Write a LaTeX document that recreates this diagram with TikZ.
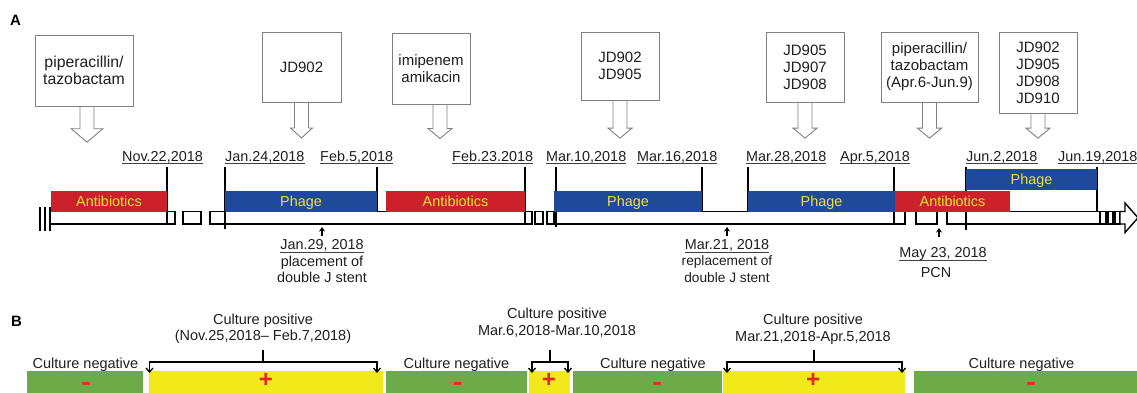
\documentclass[tikz,border=0pt]{standalone}
\usepackage{fontspec}
\setmainfont{Liberation Sans}
\newfontfamily\minusfont[FakeStretch=1.45,FakeBold=1.5]{Liberation Sans}
\usetikzlibrary{arrows.meta}
\definecolor{abred}{RGB}{204,32,42}
\definecolor{phblue}{RGB}{31,73,153}
\definecolor{bartext}{RGB}{240,228,48}
\definecolor{cgreen}{RGB}{108,171,72}
\definecolor{cyellow}{RGB}{241,233,26}
\definecolor{signred}{RGB}{230,36,36}
\definecolor{boxgray}{RGB}{128,128,128}
\definecolor{txt}{RGB}{30,30,30}
\newcommand\blkarrow[5]{\draw[callarrow] ([xshift=#2pt-7pt]#1.south) -- ++(0,#3) -- ++(7-#4,0) -- ++(#4,#5) -- ++(#4,-#5) -- ++(7-#4,0) -- ++(0,-#3) -- cycle;}
\newcommand\datelbl[3]{\node[datel] (#1) at #2 {#3}; \draw[uline] ([yshift=-2.2pt]#1.base west) -- ([yshift=-2.2pt]#1.base east);}
\begin{document}
\begin{tikzpicture}[x=1pt,y=-1pt,
  callbox/.style={draw=boxgray, line width=0.9pt, fill=white, inner sep=0pt, align=center, text=txt, font=\fontsize{15}{17}\selectfont},
  callarrow/.style={draw=boxgray, line width=0.9pt, fill=white, line join=miter},
  datel/.style={inner sep=0pt, anchor=base west, text=txt, font=\fontsize{14.4}{17}\selectfont},
  uline/.style={line width=0.8pt, black!75},
  tl/.style={line width=1.4pt, black},
  tlbox/.style={inner sep=0pt, text=bartext, text height=10.3pt, text depth=0pt, minimum height=21pt, font=\fontsize{14.4}{17}\selectfont},
  notel/.style={inner sep=0pt, anchor=base, text=txt, font=\fontsize{14.4}{17}\selectfont},
  cult/.style={inner sep=0pt, anchor=base, text=txt, font=\fontsize{14.5}{17}\selectfont},
  cbar/.style={inner sep=0pt, minimum height=22pt},
  sgn/.style={inner sep=0pt, anchor=base, text=signred, font=\bfseries\fontsize{24}{24}\selectfont},
  msgn/.style={inner sep=0pt, anchor=base, text=signred, font=\minusfont\bfseries\fontsize{18.6}{19}\selectfont},
  brk/.style={line width=1.3pt, black},
  brka/.style={line width=1.3pt, black, {Straight Barb[length=4pt,width=7pt]}-{Straight Barb[length=4pt,width=7pt]}},
  upar/.style={line width=1.3pt, black, -{Stealth[length=4.5pt,width=6pt]}},
  panel/.style={inner sep=0pt, anchor=base west, font=\bfseries\fontsize{15}{17}\selectfont}
]
\useasboundingbox (0,0) rectangle (1137,392);

% panel letters
\node[panel] (pA) at (10,25.5) {A};
\node[panel] (pB) at (11,326) {B};

% callout boxes
\node[callbox, font=\fontsize{15.8}{16.5}\selectfont, minimum width=98pt, minimum height=71pt] (c1) at (84,70.5) {piperacillin/\\tazobactam};
\node[callbox, minimum width=79pt, minimum height=70pt] (c2) at (301.5,67) {JD902};
\node[callbox, minimum width=78pt, minimum height=71pt] (c3) at (431,68.5) {imipenem\\amikacin};
\node[callbox, minimum width=78pt, minimum height=68pt] (c4) at (620,66) {JD902\\JD905};
\node[callbox, minimum width=78pt, minimum height=70pt] (c5) at (805,67) {JD905\\JD907\\JD908};
\node[callbox, minimum width=97pt, minimum height=70pt] (c6) at (929.5,67) {piperacillin/\\tazobactam\\(Apr.6-Jun.9)};
\node[callbox, minimum width=78pt, minimum height=81pt] (c7) at (1038,72.5) {JD902\\JD905\\JD908\\JD910};
\blkarrow{c1}{3}{22.3}{15.8}{13.4}
\blkarrow{c2}{0}{25.5}{11}{10}
\blkarrow{c3}{9}{24}{12}{10}
\blkarrow{c4}{0}{27.7}{12}{10}
\blkarrow{c5}{0}{25.7}{12}{10}
\blkarrow{c6}{0}{25.7}{12}{10}
\blkarrow{c7}{0}{14.7}{12}{10}

% date labels
\datelbl{d1}{(122,161.5)}{Nov.22,2018}
\datelbl{d2}{(225,161.5)}{Jan.24,2018}
\datelbl{d3}{(320,161.5)}{Feb.5,2018}
\datelbl{d4}{(452,161.5)}{Feb.23.2018}
\datelbl{d5}{(546,161.5)}{Mar.10,2018}
\datelbl{d6}{(637,161.5)}{Mar.16,2018}
\datelbl{d7}{(746,161.5)}{Mar.28,2018}
\datelbl{d8}{(840,161.5)}{Apr.5,2018}
\datelbl{d9}{(966,161.5)}{Jun.2,2018}
\datelbl{d10}{(1058,161.5)}{Jun.19,2018}

% date ticks
\draw[tl] (167,167) -- (167,212);
\draw[tl] (225,167) -- (225,229);
\draw[tl] (377,167) -- (377,211.5);
\draw[tl] (525,167) -- (525,224);
\draw[tl] (556,167) -- (556,227);
\draw[tl] (702,167) -- (702,211.5);
\draw[tl] (748,167) -- (748,211.5);
\draw[tl] (894,167) -- (894,224);
\draw[tl] (966,167) -- (966,230);
\draw[tl] (1097,167) -- (1097,211.5);

% timeline bar
\draw[tl] (40,207) -- (40,231);
\draw[tl] (45,207) -- (45,231);
\draw[tl] (50,207) -- (50,231);
\draw[tl] (50,211.5) rectangle (167,224);
\draw[tl] (167,211.5) rectangle (175,224);
\draw[tl] (183,211.5) rectangle (201,224);
\draw[tl] (210,211.5) rectangle (225,224);
\draw[tl] (225,211.5) rectangle (525,224);
\draw[tl] (525,211.5) rectangle (532,224);
\draw[tl] (535,211.5) rectangle (543,224);
\draw[tl] (547,211.5) rectangle (554,224);
\draw[tl] (556,211.5) rectangle (894,224);
\draw[tl] (894,211.5) rectangle (905,224);
\draw[tl] (916,211.5) rectangle (937,224);
\draw[tl] (947,211.5) rectangle (966,224);
\draw[tl] (966,211.5) rectangle (1100,224);
\draw[tl] (1100,211.5) rectangle (1106,224);
\draw[tl] (1108,211.5) rectangle (1113,224);
\draw[tl] (1115,211.5) rectangle (1120,224);
\draw[tl, fill=white, line join=miter] (1120,211.5) -- (1125,211.5) -- (1125,203) -- (1138,217.75) -- (1125,232.5) -- (1125,224) -- (1120,224) -- cycle;

% treatment periods
\node[tlbox, fill=abred, minimum width=116pt] (ab1) at (109,201) {Antibiotics};
\node[tlbox, fill=phblue, minimum width=152pt] (ph1) at (301,201) {Phage};
\node[tlbox, fill=abred, minimum width=139pt] (ab2) at (455.5,201) {Antibiotics};
\node[tlbox, fill=phblue, minimum width=148pt] (ph2) at (628,201) {Phage};
\node[tlbox, fill=phblue, minimum width=147pt] (ph3) at (821.5,201) {Phage};
\node[tlbox, fill=abred, minimum width=115pt] (ab3) at (952.5,201) {Antibiotics};
\node[tlbox, fill=phblue, minimum width=131pt] (ph4) at (1031.5,179.5) {Phage};

% events below timeline
\coordinate (e1s) at (322,236);
\coordinate (e1t) at (322,227);
\draw[upar] (e1s) -- (e1t);
\node[notel] (n1a) at (322,249.5) {Jan.29, 2018};
\draw[uline] ([yshift=-3pt]n1a.base west) -- ([yshift=-3pt]n1a.base east);
\node[notel] (n1b) at (322,266.5) {placement of};
\node[notel] (n1c) at (322,282.7) {double J stent};

\coordinate (e2s) at (727,236);
\coordinate (e2t) at (727,227);
\draw[upar] (e2s) -- (e2t);
\node[notel] (n2a) at (727,249.5) {Mar.21, 2018};
\draw[uline] ([yshift=-3pt]n2a.base west) -- ([yshift=-3pt]n2a.base east);
\node[notel, font=\fontsize{13.7}{16}\selectfont] (n2b) at (727,265.5) {replacement of};
\node[notel, font=\fontsize{13.7}{16}\selectfont] (n2c) at (727,282) {double J stent};

\coordinate (e3s) at (939,237);
\coordinate (e3t) at (939,228);
\draw[upar] (e3s) -- (e3t);
\node[notel] (n3a) at (943,257.5) {May 23, 2018};
\draw[uline] ([yshift=-3pt]n3a.base west) -- ([yshift=-3pt]n3a.base east);
\node[notel] (n3b) at (936,277.3) {PCN};

% panel B bars
\node[cbar, fill=cgreen, minimum width=116pt] (g1) at (85,382) {};
\node[cbar, fill=cyellow, minimum width=234pt] (y1) at (266,382) {};
\node[cbar, fill=cgreen, minimum width=141pt] (g2) at (456.5,382) {};
\node[cbar, fill=cyellow, minimum width=41pt] (y2) at (549.5,382) {};
\node[cbar, fill=cgreen, minimum width=149pt] (g3) at (647.5,382) {};
\node[cbar, fill=cyellow, minimum width=182pt] (y3) at (814,382) {};
\node[cbar, fill=cgreen, minimum width=223pt] (g4) at (1025.5,382) {};

\node[msgn] (s1) at (86,388.3) {-};
\node[sgn] (s2) at (266,387) {+};
\node[msgn] (s3) at (457.5,388.3) {-};
\node[sgn] (s4) at (549,387) {+};
\node[msgn] (s5) at (657,388.3) {-};
\node[sgn] (s6) at (813,387) {+};
\node[msgn] (s7) at (1031,388.3) {-};

% culture labels
\node[cult] (cn1) at (85.5,368) {Culture negative};
\node[cult] (cn2) at (456.5,368) {Culture negative};
\node[cult] (cn3) at (653,368) {Culture negative};
\node[cult] (cn4) at (1021.5,368) {Culture negative};

\node[cult] (cp1) at (263,324) {Culture positive};
\node[cult] (cp1d) at (263,340.7) {(Nov.25,2018– Feb.7,2018)};
\node[cult] (cp2) at (557,318) {Culture positive};
\node[cult] (cp2d) at (557,335) {Mar.6,2018-Mar.10,2018};
\node[cult] (cp3) at (813,324) {Culture positive};
\node[cult] (cp3d) at (813,341) {Mar.21,2018-Apr.5,2018};

% brackets
\coordinate (b1s) at (263,350);
\coordinate (b1m) at (263,362);
\coordinate (b1l) at (149.5,373);
\coordinate (b1r) at (377,373);
\draw[brk] (b1s) -- (b1m);
\draw[brka] (b1l) -- (b1l |- b1m) -- (b1r |- b1m) -- (b1r);

\coordinate (b2s) at (550,350);
\coordinate (b2m) at (550,362);
\coordinate (b2l) at (532,373);
\coordinate (b2r) at (568,373);
\draw[brk] (b2s) -- (b2m);
\draw[brka] (b2l) -- (b2l |- b2m) -- (b2r |- b2m) -- (b2r);

\coordinate (b3s) at (814,350);
\coordinate (b3m) at (814,362);
\coordinate (b3l) at (727,373);
\coordinate (b3r) at (902,373);
\draw[brk] (b3s) -- (b3m);
\draw[brka] (b3l) -- (b3l |- b3m) -- (b3r |- b3m) -- (b3r);
\end{tikzpicture}
\end{document}
